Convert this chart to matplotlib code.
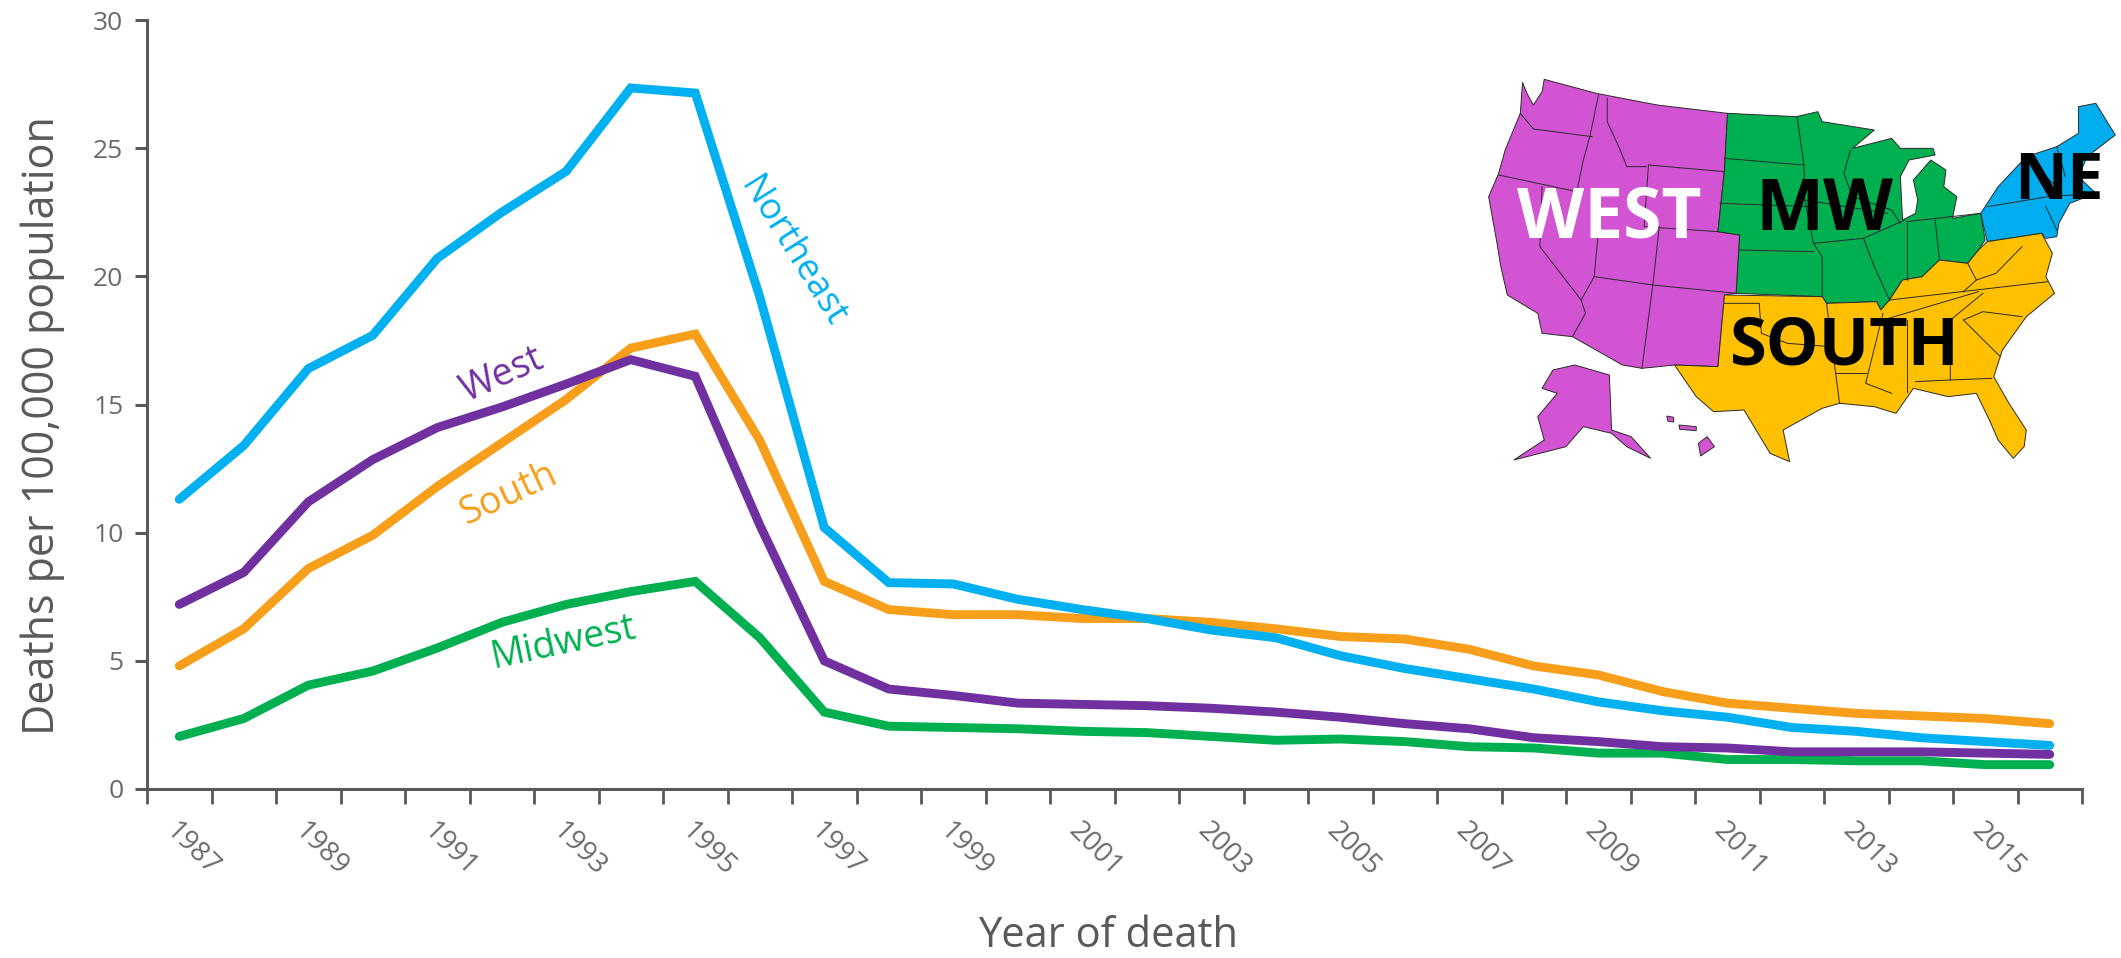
import matplotlib
matplotlib.use("Agg")
import matplotlib.pyplot as plt
from matplotlib.patches import Polygon

plt.rcParams['font.family'] = ['Open Sans', 'DejaVu Sans']

years = list(range(1987, 2017))
northeast = [11.3, 13.4, 16.4, 17.7, 20.7, 22.5, 24.1, 27.35, 27.15, 19.2, 10.2, 8.05, 8.0, 7.4, 7.0,
             6.65, 6.2, 5.9, 5.2, 4.7, 4.3, 3.9, 3.4, 3.05, 2.8, 2.4, 2.25, 2.0, 1.85, 1.7]
west = [7.2, 8.45, 11.2, 12.85, 14.1, 14.9, 15.8, 16.75, 16.1, 10.3, 5.0, 3.9, 3.65, 3.35, 3.3,
        3.25, 3.15, 3.0, 2.8, 2.55, 2.35, 2.0, 1.85, 1.65, 1.6, 1.45, 1.45, 1.45, 1.4, 1.35]
south = [4.8, 6.25, 8.6, 9.9, 11.8, 13.5, 15.2, 17.2, 17.75, 13.6, 8.1, 7.0, 6.8, 6.8, 6.65,
         6.65, 6.5, 6.25, 5.95, 5.85, 5.45, 4.8, 4.45, 3.8, 3.35, 3.15, 2.95, 2.85, 2.75, 2.55]
midwest = [2.05, 2.75, 4.05, 4.6, 5.5, 6.5, 7.2, 7.7, 8.1, 5.9, 3.0, 2.45, 2.4, 2.35, 2.25,
           2.2, 2.05, 1.9, 1.95, 1.85, 1.65, 1.6, 1.4, 1.4, 1.15, 1.15, 1.1, 1.1, 0.95, 0.95]

c_ne = '#00B0F0'
c_west = '#7030A0'
c_south = '#F79F1B'
c_mw = '#00B050'
gray = '#595959'
tick_gray = '#6a6a6a'

# map outlines, traced by eye
map_west = [(190,97),(200,130),(215,165),(235,125),(240,88),(360,130),(500,165),(662,190),(655,360),(640,545),(690,555),(682,730),
            (655,735),(640,950),(540,945),(465,955),(420,945),(305,860),(235,850),(225,790),(155,735),
            (140,650),(130,570),(112,440),(135,370),(150,300),(185,190)]
map_mw = [(662,190),(820,200),(870,185),(880,215),(1000,240),(950,295),(1040,265),(1060,295),(1135,295),
          (1140,315),(1080,330),(1060,380),(1065,510),(1095,490),(1100,450),(1090,390),(1130,330),(1165,360),
          (1160,410),(1190,440),(1180,505),(1245,490),(1255,570),(1240,600),(1215,640),(1150,630),(1110,680),
          (1065,690),(1035,750),(1015,780),(1005,755),(890,760),(880,740),(682,730),(690,555),(640,545),(655,360)]
map_ne = [(1245,490),(1285,410),(1350,320),(1420,290),(1470,250),(1470,170),(1510,160),(1555,255),(1490,320),
          (1470,380),(1510,430),(1450,460),(1425,520),(1420,560),(1395,565),(1385,550),(1260,575)]
map_south = [(655,735),(880,740),(890,760),(1005,755),(1015,780),(1035,750),(1065,690),(1110,680),(1150,630),
             (1215,640),(1240,600),(1260,575),(1385,550),(1410,610),(1395,680),(1415,730),(1350,800),(1295,900),
             (1275,980),(1310,1060),(1350,1140),(1345,1190),(1320,1225),(1285,1170),(1265,1110),(1235,1030),(1170,1040),(1090,1015),
             (1050,1090),(1000,1070),(920,1060),(880,1075),(790,1140),(805,1235),(760,1210),(700,1080),(630,1085),
             (590,1040),(540,945),(640,950)]
map_alaska = [(310,945),(390,975),(395,1140),(440,1160),(485,1225),(430,1190),(395,1150),(330,1130),(290,1190),
              (170,1230),(240,1170),(225,1100),(270,1030),(235,1015),(260,960)]
map_hawaii = [(595,1180),(615,1160),(632,1190),(600,1218)]
map_hawaii2 = [(550,1125),(590,1130),(590,1142),(552,1138)]
map_hawaii3 = [(522,1098),(538,1102),(538,1116),(525,1114)]
map_lines = [
    [(185,190),(215,237),(350,260)], [(365,135),(345,260),(330,330),(315,425)], [(135,375),(315,425)],
    [(385,145),(385,215),(415,300),(430,350),(475,350)], [(480,345),(655,365)], [(480,345),(470,530),(640,545)],
    [(235,410),(230,590),(325,750)], [(370,470),(355,680),(340,715),(325,750),(335,790),(305,860)],
    [(355,680),(490,705),(682,730)], [(505,530),(490,705),(465,955)],
    [(655,325),(835,345)], [(822,200),(838,345),(840,450)], [(645,460),(860,470)], [(690,600),(860,605)],
    [(880,740),(880,620),(860,580),(840,450),(1030,490)], [(860,580),(975,565),(1070,510)],
    [(945,300),(930,370),(950,440),(1040,480),(1060,520)], [(975,565),(1000,650),(1035,750)],
    [(1075,520),(1075,690)], [(1140,510),(1150,630)], [(1075,515),(1245,490)],
    [(655,760),(735,760),(740,850),(800,880),(900,890)], [(890,760),(910,960),(920,1060)], [(910,970),(980,970)],
    [(1035,750),(1400,695)], [(1020,810),(1240,725)], [(1020,790),(980,1000),(1040,1030)],
    [(1075,810),(1075,1025)], [(1175,805),(1175,990),(1270,985)], [(1095,995),(1175,990)],
    [(1180,805),(1250,730)], [(1205,810),(1290,920)], [(1205,810),(1250,785),(1340,800)],
    [(1215,640),(1235,690),(1280,670),(1340,590)], [(1205,725),(1235,690)],
    [(1420,290),(1440,380)], [(1350,320),(1430,425)], [(1260,470),(1400,440),(1510,430)], [(1395,470),(1420,540)],
]

fig = plt.figure(figsize=(21.21, 9.58), dpi=100)
ax = fig.add_axes([147 / 2121, 1 - 789 / 958, (2082 - 147) / 2121, (789 - 20) / 958])

x = list(range(len(years)))
for vals, col in [(midwest, c_mw), (south, c_south), (west, c_west), (northeast, c_ne)]:
    ax.plot(x, vals, color=col, lw=6.4, solid_joinstyle='miter', solid_capstyle='round')

ax.set_xlim(-0.5, len(years) - 0.5)
ax.set_ylim(0, 30)
ax.spines['top'].set_visible(False)
ax.spines['right'].set_visible(False)
ax.spines['left'].set_color(gray)
ax.spines['bottom'].set_color(gray)
ax.spines['left'].set_linewidth(2.2)
ax.spines['bottom'].set_linewidth(2.2)

ax.set_yticks(range(0, 31, 5))
ax.tick_params(axis='y', length=9, width=2.2, color=gray, labelcolor=tick_gray, labelsize=19, pad=8)
ax.set_xticks([i - 0.5 for i in range(len(years) + 1)], minor=True)
ax.tick_params(axis='x', which='minor', length=11, width=2, color=gray)
ax.set_xticks(x[::2])
ax.set_xticklabels(years[::2], rotation=-45, ha='left', rotation_mode='anchor')
ax.tick_params(axis='x', which='major', length=0, labelcolor=tick_gray, labelsize=20, pad=20)

fig.text(43 / 2121, 1 - 426 / 958, 'Deaths per 100,000 population', rotation=90, color=gray, fontsize=31,
         ha='center', va='center')
fig.text(1108 / 2121, 1 - 936 / 958, 'Year of death', color=gray, fontsize=30, ha='center', va='center')

ax.text(9.5, 20.95, 'Northeast', color=c_ne, fontsize=26, rotation=-58, ha='center', va='center')
ax.text(5.0, 16.15, 'West', color=c_west, fontsize=27, rotation=24, ha='center', va='center')
ax.text(5.1, 11.5, 'South', color=c_south, fontsize=27, rotation=25, ha='center', va='center')
ax.text(5.95, 5.7, 'Midwest', color=c_mw, fontsize=27, rotation=12, ha='center', va='center')

# inset map, axes units are the traced coordinates
m = fig.add_axes([1440 / 2121, 1 - 480 / 958, 681 / 2121, 430 / 958])
m.set_xlim(0, 1568)
m.set_ylim(1290, 0)
m.axis('off')
for pts, col in [(map_west, '#D354D3'), (map_alaska, '#D354D3'), (map_hawaii, '#D354D3'), (map_hawaii2, '#D354D3'),
                 (map_hawaii3, '#D354D3'), (map_mw, '#00AF50'), (map_ne, '#00AEEF'), (map_south, '#FFC000')]:
    m.add_patch(Polygon(pts, closed=True, facecolor=col, edgecolor='#2b2b2b', lw=0.7))
for seg in map_lines:
    m.plot([p[0] for p in seg], [p[1] for p in seg], color='#2b2b2b', lw=0.7)

m.text(390, 510, 'WEST', color='white', fontsize=50, fontweight='bold', ha='center', va='center')
m.text(885, 482, 'MW', color='black', fontsize=52, fontweight='bold', ha='center', va='center')
m.text(932, 892, 'SOUTH', color='black', fontsize=48, fontweight='bold', ha='center', va='center')
m.text(1425, 398, 'NE', color='black', fontsize=47, fontweight='bold', ha='center', va='center')

fig.savefig('out.png', dpi=100)
